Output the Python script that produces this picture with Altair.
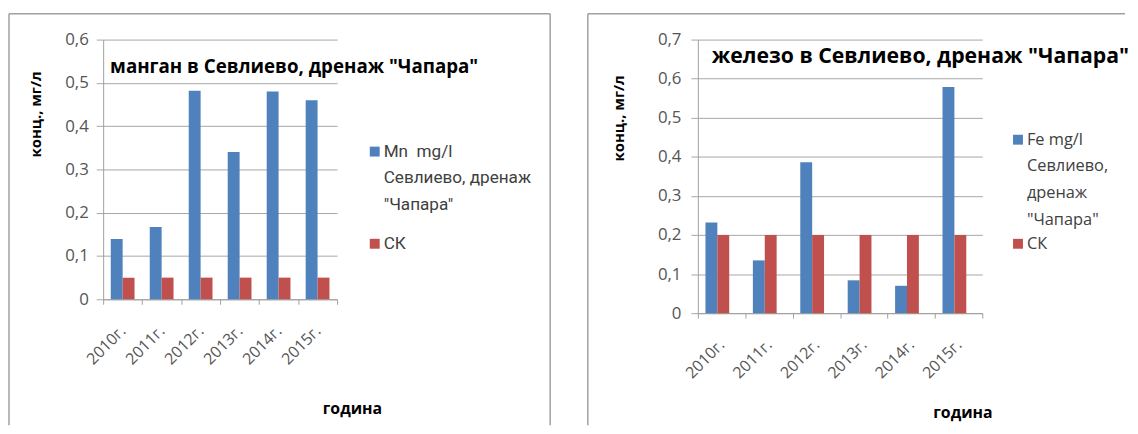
import altair as alt
import pandas as pd

years = ["2010г.", "2011г.", "2012г.", "2013г.", "2014г.", "2015г."]
mn_values = [0.139, 0.167, 0.482, 0.340, 0.480, 0.460]
mn_sk = [0.05, 0.05, 0.05, 0.05, 0.05, 0.05]
fe_values = [0.232, 0.135, 0.386, 0.084, 0.070, 0.579]
fe_sk = [0.2, 0.2, 0.2, 0.2, 0.2, 0.2]
series_keys = ["main", "sk"]
colors = ["#4F81BD", "#C0504D"]
mn_ticks = [0, 0.1, 0.2, 0.3, 0.4, 0.5, 0.6]
fe_ticks = [0, 0.1, 0.2, 0.3, 0.4, 0.5, 0.6, 0.7]

mn_title = 'манган в Севлиево, дренаж "Чапара"'
fe_title = 'железо в Севлиево, дренаж "Чапара"'
mn_legend = ["Mn\u00a0 mg/l", "Севлиево, дренаж", '"Чапара"']
fe_legend = ["Fe mg/l", "Севлиево,", "дренаж", '"Чапара"']
sk_label = "СК"
y_title = "конц., мг/л"
x_title = "година"

FRAME = "#a0a0a0"
GRID = "#a6a6a6"
LAB = "#555555"


def make_df(main_vals, sk_vals):
    rows = []
    for y, v in zip(years, main_vals):
        rows.append({"year": y, "series": "main", "value": v})
    for y, v in zip(years, sk_vals):
        rows.append({"year": y, "series": "sk", "value": v})
    return pd.DataFrame(rows)


one = pd.DataFrame({"k": [0]})

LABEL_EXPR = "datum.value == 0 ? '0' : replace(format(datum.value, '.1f'), '.', ',')"


def panel(df, ticks, W, H, po, cfg):
    bars = alt.Chart(df).mark_bar().encode(
        x=alt.X("year:N", sort=years,
                scale=alt.Scale(paddingInner=0, paddingOuter=0),
                axis=alt.Axis(title=x_title, tickBand="extent", tickSize=5,
                              tickColor=FRAME, domainColor=FRAME,
                              labelAngle=-45, labelAlign="right", labelBaseline="middle",
                              labelPadding=cfg["xlp"], labelFont=cfg["lfont"],
                              labelFontSize=cfg["xlfs"], labelColor=LAB, labelOverlap=False,
                              titleFont="Open Sans", titleFontSize=16, titleFontWeight="bold",
                              titleColor="#000000", titleX=cfg["xtx"], titleY=cfg["xty"],
                              titleAlign="center", titleBaseline="middle")),
        xOffset=alt.XOffset("series:N", sort=series_keys,
                            scale=alt.Scale(paddingInner=0, paddingOuter=po)),
        y=alt.Y("value:Q",
                scale=alt.Scale(domain=[ticks[0], ticks[-1]], nice=False),
                axis=alt.Axis(title=y_title, values=ticks, labelExpr=LABEL_EXPR,
                              tickSize=7, tickColor=GRID, domainColor=FRAME,
                              gridColor=GRID, labelPadding=cfg["ylp"], labelFont=cfg["lfont"],
                              labelFontSize=17, labelColor=LAB,
                              titleFont="Open Sans", titleFontSize=15, titleFontWeight="bold",
                              titleColor="#000000", titleAngle=-90, titleX=cfg["ytx"],
                              titleY=cfg["yty"], titleAlign="center", titleBaseline="middle")),
        color=alt.Color("series:N", scale=alt.Scale(domain=series_keys, range=colors), legend=None),
    )

    layers = [bars]
    # chart title inside plot
    layers.append(alt.Chart(one).mark_text(
        text=cfg["title"], align="left", baseline="middle", font=cfg["tfont"],
        fontSize=cfg["tfs"], fontWeight="bold", color="#000000"
    ).encode(x=alt.value(cfg["tx"]), y=alt.value(cfg["ty"])))

    # legend
    lx, ly, lh = cfg["lx"], cfg["ly"], cfg["lh"]
    for i, line in enumerate(cfg["legend"]):
        layers.append(alt.Chart(one).mark_text(
            text=line, align="left", baseline="middle", font=cfg["legfont"],
            fontSize=cfg["legfs"], color="#404040"
        ).encode(x=alt.value(lx + 14), y=alt.value(ly + i * lh)))
    layers.append(alt.Chart(one).mark_rect(color=colors[0]).encode(
        x=alt.value(lx), x2=alt.value(lx + 10), y=alt.value(ly - 5), y2=alt.value(ly + 5)))
    layers.append(alt.Chart(one).mark_rect(color=colors[1]).encode(
        x=alt.value(lx), x2=alt.value(lx + 10), y=alt.value(cfg["sky"] - 5), y2=alt.value(cfg["sky"] + 5)))
    layers.append(alt.Chart(one).mark_text(
        text=sk_label, align="left", baseline="middle", font=cfg["legfont"],
        fontSize=cfg["legfs"], color="#404040"
    ).encode(x=alt.value(lx + 14), y=alt.value(cfg["sky"])))

    # frame
    fl, ft, fr, fb = cfg["frame"]
    layers.append(alt.Chart(one).mark_rule(color=FRAME, strokeWidth=1.5).encode(
        x=alt.value(fl), x2=alt.value(fr), y=alt.value(ft)))
    layers.append(alt.Chart(one).mark_rule(color=FRAME, strokeWidth=1.5).encode(
        x=alt.value(fl), y=alt.value(ft), y2=alt.value(fb)))
    if cfg["right_side"]:
        layers.append(alt.Chart(one).mark_rule(color=FRAME, strokeWidth=1.5).encode(
            x=alt.value(fr), y=alt.value(ft), y2=alt.value(fb)))

    return alt.layer(*layers).properties(width=W, height=H)


left_cfg = dict(
    xlp=24, lfont="Open Sans", xlfs=16, xtx=251, xty=110, ytx=-68, yty=75, ylp=8,
    title=mn_title, tfont="Open Sans", tfs=18.9, tx=7, ty=28,
    legend=mn_legend, legfont="Roboto", legfs=17.3, lx=269, ly=113, lh=27, sky=206,
    frame=(-95, -26, 451, 389), right_side=True,
)
right_cfg = dict(
    xlp=24, lfont="Open Sans", xlfs=16, xtx=267, xty=100, ytx=-80, yty=79, ylp=10,
    title=fe_title, tfont="Open Sans", tfs=21.4, tx=14, ty=18,
    legend=fe_legend, legfont="Open Sans", legfs=16.5, lx=318, ly=101, lh=27, sky=206,
    frame=(-111, -26, 431, 389), right_side=False,
)

left = panel(make_df(mn_values, mn_sk), mn_ticks, 236, 262, 0.64, left_cfg)
right = panel(make_df(fe_values, fe_sk), fe_ticks, 287, 276, 0.77, right_cfg)

chart = alt.hconcat(left, right, spacing=36).properties(
    padding={"left": 0, "top": 3, "right": 0, "bottom": 0}
).configure_view(strokeWidth=0)

chart.save("out.html", embed_options={"renderer": "svg", "actions": False})
